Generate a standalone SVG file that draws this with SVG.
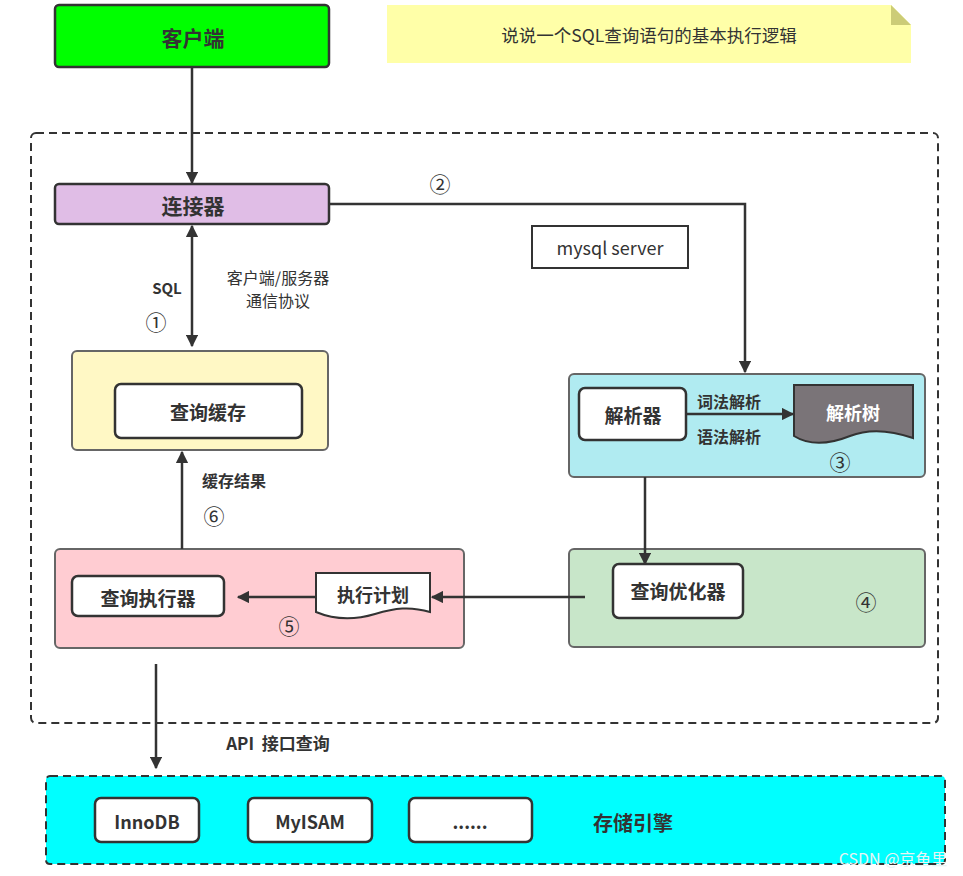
<svg xmlns="http://www.w3.org/2000/svg" width="963" height="876" viewBox="0 0 963 876">
<style>
text{font-family:"Noto Sans CJK SC","Liberation Sans",sans-serif;fill:#333;text-anchor:middle;dominant-baseline:central}
.b{font-weight:bold}
.num{font-size:21px}
.box{stroke:#333;stroke-width:2.5}
.cont{stroke:#666;stroke-width:2}
.ln{stroke:#333;stroke-width:2.5;fill:none}
.dash{stroke:#333;stroke-width:2;stroke-dasharray:8 5}
</style>
<defs>
<marker id="ah" viewBox="0 0 10 10" refX="9" refY="5" markerWidth="5" markerHeight="5" orient="auto-start-reverse" markerUnits="strokeWidth">
<path d="M0,0 L10,5 L0,10 z" fill="#333"/>
</marker>
</defs>
<rect x="0" y="0" width="963" height="876" fill="#fff"/>

<g id="server-boundary">
<rect x="31" y="133" width="907" height="590" rx="5" fill="none" class="dash"/>
</g>

<g id="client">
<rect x="55" y="5" width="274" height="62" rx="4" fill="#00ff00" class="box"/>
<text x="193" y="37" font-size="21" class="b">客户端</text>
</g>

<g id="note">
<path d="M387,5 H891 L911,25 V63 H387 z" fill="#ffffa8"/>
<path d="M891,5 L911,25 H891 z" fill="#cccc77"/>
<text x="649" y="34" font-size="17.5">说说一个SQL查询语句的基本执行逻辑</text>
</g>

<g id="connector">
<rect x="55" y="184" width="274" height="40" rx="4" fill="#e0bde6" class="box"/>
<text x="193" y="205" font-size="21" class="b">连接器</text>
</g>

<g id="mysql-server">
<rect x="532" y="226" width="156" height="42" fill="#fff" stroke="#333" stroke-width="2"/>
<text x="610" y="247" font-size="18">mysql server</text>
</g>

<g id="query-cache">
<rect x="72" y="351" width="256" height="99" rx="5" fill="#fff8c5" class="cont"/>
<rect x="115" y="384" width="187" height="54" rx="6" fill="#fff" class="box"/>
<text x="208" y="411" font-size="19" class="b">查询缓存</text>
</g>

<g id="parser">
<rect x="569" y="374" width="356" height="103" rx="5" fill="#b0ebf1" class="cont"/>
<rect x="579" y="388" width="107" height="52" rx="6" fill="#fff" class="box"/>
<text x="633" y="414" font-size="19" class="b">解析器</text>
</g>

<g id="parse-tree">
<path d="M794,385 H913 V438 C890,430 870,428 850,436 C830,444 810,446 794,436 z" fill="#7a7478" stroke="#333" stroke-width="2"/>
<text x="853" y="412" font-size="18" class="b" style="fill:#fff">解析树</text>
<text x="840" y="461" class="num">③</text>
</g>

<g id="optimizer">
<rect x="569" y="549" width="356" height="98" rx="5" fill="#c8e6c9" class="cont"/>
<rect x="613" y="564" width="130" height="54" rx="6" fill="#fff" class="box"/>
<text x="678" y="590" font-size="19" class="b">查询优化器</text>
<text x="866" y="601" class="num">④</text>
</g>

<g id="executor">
<rect x="55" y="549" width="409" height="99" rx="5" fill="#ffccd2" class="cont"/>
<rect x="72" y="576" width="152" height="40" rx="6" fill="#fff" class="box"/>
<text x="148" y="597" font-size="19" class="b">查询执行器</text>
</g>

<g id="exec-plan">
<path d="M316,573 H430 V612 C410,606 395,608 375,614 C355,620 335,620 316,612 z" fill="#fff" stroke="#333" stroke-width="2"/>
<text x="373" y="594" font-size="18" class="b">执行计划</text>
<text x="289" y="625" class="num">⑤</text>
</g>

<g id="storage">
<rect x="46" y="776" width="899" height="88" rx="4" fill="#00ffff" class="dash"/>
<rect x="95" y="798" width="104" height="44" rx="6" fill="#fff" class="box"/>
<text x="147" y="821" font-size="18" font-weight="600">InnoDB</text>
<rect x="248" y="798" width="124" height="44" rx="6" fill="#fff" class="box"/>
<text x="310" y="821" font-size="18" font-weight="600">MyISAM</text>
<rect x="409" y="798" width="123" height="44" rx="6" fill="#fff" class="box"/>
<text x="470" y="821" font-size="18" font-weight="600">......</text>
<text x="633" y="822" font-size="20" class="b">存储引擎</text>
</g>

<g id="connectors">
<line x1="192" y1="67" x2="192" y2="183" class="ln" marker-end="url(#ah)"/>
<polyline points="329,204 745,204 745,372" class="ln" marker-end="url(#ah)"/>
<line x1="192" y1="226" x2="192" y2="346" class="ln" marker-start="url(#ah)" marker-end="url(#ah)"/>
<line x1="686" y1="414" x2="793" y2="414" class="ln" marker-end="url(#ah)"/>
<line x1="645" y1="477" x2="645" y2="564" class="ln" marker-end="url(#ah)"/>
<line x1="585" y1="597" x2="432" y2="597" class="ln" marker-end="url(#ah)"/>
<line x1="316" y1="597" x2="238" y2="597" class="ln" marker-end="url(#ah)"/>
<line x1="182" y1="549" x2="182" y2="452" class="ln" marker-end="url(#ah)"/>
<line x1="156" y1="664" x2="156" y2="768" class="ln" marker-end="url(#ah)"/>
</g>

<g id="labels">
<text x="440" y="183" class="num">②</text>
<text x="167" y="287" font-size="15" class="b">SQL</text>
<text x="278" y="277" font-size="16">客户端/服务器</text>
<text x="278" y="300" font-size="16">通信协议</text>
<text x="156" y="321" class="num">①</text>
<text x="729" y="401" font-size="16" class="b">词法解析</text>
<text x="729" y="436" font-size="16" class="b">语法解析</text>
<text x="234" y="480" font-size="16" class="b">缓存结果</text>
<text x="214" y="515" class="num">⑥</text>
<text x="278" y="742" font-size="17" class="b" xml:space="preserve">API  接口查询</text>
<text x="893" y="858" font-size="16" style="fill:#e8f4f4">CSDN @京鱼里</text>
</g>
</svg>
